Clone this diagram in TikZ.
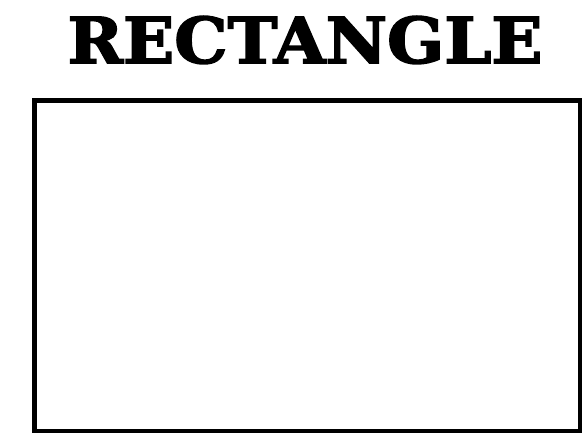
\documentclass[tikz,border=0pt]{standalone}
\usepackage{fontspec}
\usepackage{graphicx}
\newfontfamily\headfont{DejaVu Serif}[BoldFeatures={FakeBold=2.5}]
\usetikzlibrary{positioning}

\begin{document}
\begin{tikzpicture}[x=1pt,y=1pt,
    heading/.style={inner sep=0pt,font=\headfont\bfseries},
    frame/.style={draw,line width=4.5pt,minimum width=545.5pt,minimum height=330.5pt,inner sep=0pt}]
\useasboundingbox (0,0) rectangle (587,444);
\node[heading] (title) at (305,404) {\resizebox{475pt}{47pt}{RECTANGLE}};
\node[frame] (shape) at (307.25,178.25) {};
\end{tikzpicture}
\end{document}
